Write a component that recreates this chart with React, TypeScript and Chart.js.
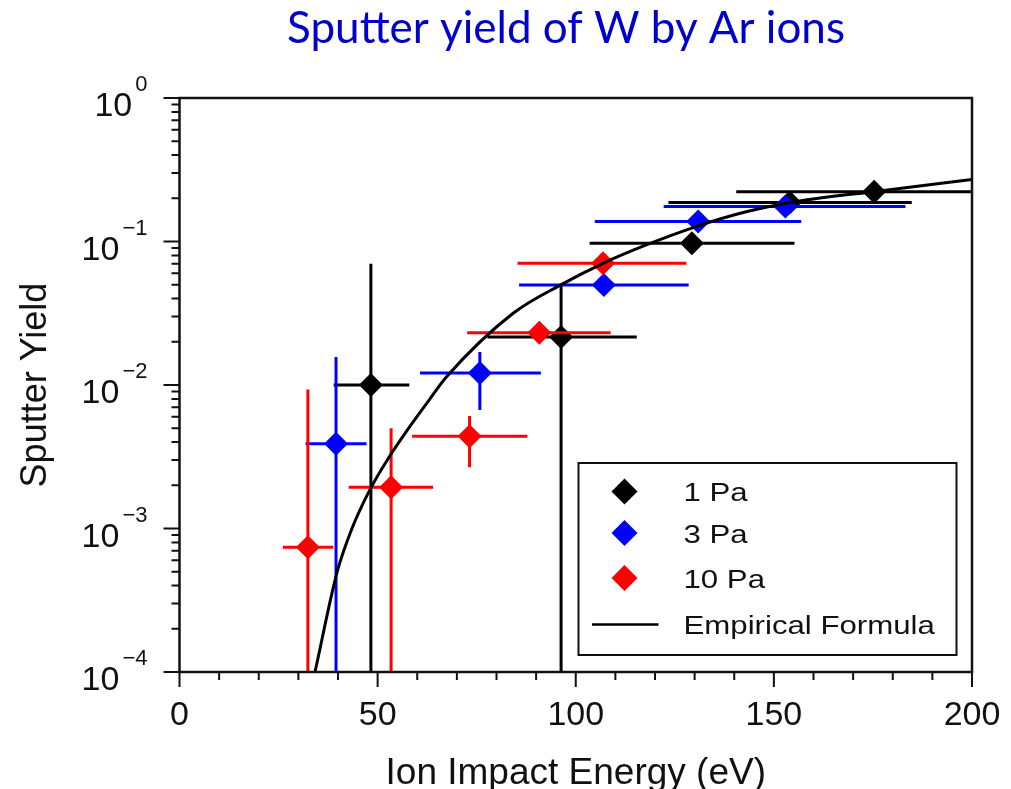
import React, { useEffect, useRef } from "react";
import { Chart, registerables } from "chart.js";

Chart.register(...registerables);

// ---------- text ----------
const TITLE = "Sputter yield of W by Ar ions";
const X_TITLE = "Ion Impact Energy (eV)";
const Y_TITLE = "Sputter Yield";

// ---------- axes ----------
const X_MIN = 0;
const X_MAX = 200;
const X_TICKS = [0, 50, 100, 150, 200];
const X_MINOR_TICKS = [10, 20, 30, 40, 60, 70, 80, 90, 110, 120, 130, 140, 160, 170, 180, 190];
const Y_EXPONENTS = [-4, -3, -2, -1, 0];
const Y_MINOR_MULTIPLIERS = [2, 3, 4, 5, 6, 7, 8, 9];

// ---------- series: 1 Pa ----------
const LABEL_1PA = "1 Pa";
const E_1PA = [48.3, 96.3, 129.3, 154.0, 175.3];
const Y_1PA = [0.01, 0.0216, 0.0972, 0.187, 0.222];
const EX_LO_1PA = [38.9, 77.7, 103.5, 123.4, 140.5];
const EX_HI_1PA = [58.0, 115.4, 155.2, 184.8, 210.0];
const EY_LO_1PA = [0, 0, null, null, null];
const EY_HI_1PA = [0.07, 0.049, null, null, null];

// ---------- series: 3 Pa ----------
const LABEL_3PA = "3 Pa";
const E_3PA = [39.5, 75.8, 107.1, 130.9, 152.9];
const Y_3PA = [0.0039, 0.0121, 0.0497, 0.138, 0.175];
const EX_LO_3PA = [31.8, 60.7, 85.7, 104.8, 122.2];
const EX_HI_3PA = [47.2, 91.2, 128.5, 156.9, 183.2];
const EY_LO_3PA = [0, 0.0067, null, null, null];
const EY_HI_3PA = [0.0157, 0.0170, null, null, null];

// ---------- series: 10 Pa ----------
const LABEL_10PA = "10 Pa";
const E_10PA = [32.4, 53.4, 73.2, 90.8, 106.9];
const Y_10PA = [0.00074, 0.00194, 0.0044, 0.0231, 0.0705];
const EX_LO_10PA = [26.1, 42.7, 58.7, 72.6, 85.3];
const EX_HI_10PA = [38.8, 64.0, 87.8, 108.8, 127.9];
const EY_LO_10PA = [0, 0, 0.00267, null, null];
const EY_HI_10PA = [0.0093, 0.0050, 0.00608, null, null];

// ---------- empirical formula curve ----------
const LABEL_FIT = "Empirical Formula";
const FIT_E = [34.2, 39.8, 43.4, 48.0, 52.7, 58.1, 63.2, 67.4, 84.2, 96.1, 106.9, 117.8, 130.4, 143.0, 155.7, 176.7, 200];
const FIT_Y = [1.0e-4, 5.0e-4, 9.8e-4, 1.85e-3, 3.08e-3, 5.12e-3, 8.0e-3, 1.14e-2, 3.16e-2, 4.97e-2, 7.05e-2, 9.46e-2, 1.27e-1, 1.61e-1, 1.9e-1, 2.25e-1, 2.7e-1];

// ---------- colours ----------
const BLACK = "#000000";
const BLUE = "#0000ff";
const RED = "#ff0000";
const TITLE_BLUE = "#0000cc";

const AXIS_FONT = '"Liberation Sans", Arial, Helvetica, sans-serif';

function points(
  xs: number[],
  ys: number[],
  xlo: number[],
  xhi: number[],
  ylo: (number | null)[],
  yhi: (number | null)[]
) {
  return xs.map((x, i) => ({
    x,
    y: ys[i],
    xMin: xlo[i],
    xMax: xhi[i],
    yMin: ylo[i],
    yMax: yhi[i],
  }));
}

const errorBarPlugin = {
  id: "errorBars",
  beforeDatasetDraw(chart: any, args: any) {
    const ds = chart.data.datasets[args.index];
    if (!ds.errorBars) return;
    const { ctx, chartArea: a } = chart;
    const xs = chart.scales.x;
    const ys = chart.scales.y;
    ctx.save();
    ctx.beginPath();
    ctx.rect(a.left, a.top, a.right - a.left, a.bottom - a.top);
    ctx.clip();
    ctx.strokeStyle = ds.backgroundColor;
    ctx.lineWidth = 3;
    ctx.lineCap = "butt";
    ds.data.forEach((p: any) => {
      const px = xs.getPixelForValue(p.x);
      const py = ys.getPixelForValue(p.y);
      ctx.beginPath();
      ctx.moveTo(xs.getPixelForValue(p.xMin), py);
      ctx.lineTo(xs.getPixelForValue(p.xMax), py);
      if (p.yMin !== null && p.yMax !== null) {
        ctx.moveTo(px, ys.getPixelForValue(p.yMin));
        ctx.lineTo(px, ys.getPixelForValue(p.yMax));
      }
      ctx.stroke();
    });
    ctx.restore();
  },
};

function diamond(ctx: CanvasRenderingContext2D, x: number, y: number, r: number, color: string) {
  ctx.beginPath();
  ctx.moveTo(x - r, y);
  ctx.lineTo(x, y - r);
  ctx.lineTo(x + r, y);
  ctx.lineTo(x, y + r);
  ctx.closePath();
  ctx.fillStyle = color;
  ctx.fill();
}

const frameAndTextPlugin = {
  id: "frameAndText",
  afterDraw(chart: any) {
    const { ctx, chartArea: a } = chart;
    const xs = chart.scales.x;
    const ys = chart.scales.y;
    ctx.save();

    // frame
    ctx.strokeStyle = "#111";
    ctx.lineWidth = 2.5;
    ctx.strokeRect(a.left, a.top, a.right - a.left, a.bottom - a.top);

    // x ticks
    ctx.lineWidth = 2;
    ctx.beginPath();
    X_TICKS.forEach((v) => {
      const px = xs.getPixelForValue(v);
      ctx.moveTo(px, a.bottom);
      ctx.lineTo(px, a.bottom + 15);
    });
    X_MINOR_TICKS.forEach((v) => {
      const px = xs.getPixelForValue(v);
      ctx.moveTo(px, a.bottom);
      ctx.lineTo(px, a.bottom + 8);
    });
    // y ticks
    Y_EXPONENTS.forEach((e) => {
      const py = ys.getPixelForValue(Math.pow(10, e));
      ctx.moveTo(a.left, py);
      ctx.lineTo(a.left - 16, py);
      if (e < 0) {
        Y_MINOR_MULTIPLIERS.forEach((m) => {
          const pm = ys.getPixelForValue(m * Math.pow(10, e));
          ctx.moveTo(a.left, pm);
          ctx.lineTo(a.left - 8, pm);
        });
      }
    });
    ctx.stroke();

    // x tick labels
    ctx.fillStyle = "#111";
    ctx.font = `34px ${AXIS_FONT}`;
    ctx.textAlign = "center";
    ctx.textBaseline = "alphabetic";
    X_TICKS.forEach((v) => {
      ctx.fillText(String(v), xs.getPixelForValue(v), a.bottom + 53);
    });

    // y tick labels: 10^e
    const rightEdge = a.left - 32;
    Y_EXPONENTS.forEach((e) => {
      const py = ys.getPixelForValue(Math.pow(10, e));
      const expText = e < 0 ? "\u2212" + Math.abs(e) : String(e);
      ctx.textAlign = "right";
      ctx.font = `22px ${AXIS_FONT}`;
      const expW = ctx.measureText(expText).width;
      ctx.fillText(expText, rightEdge, py - 7);
      ctx.font = `34px ${AXIS_FONT}`;
      ctx.fillText("10", rightEdge - expW - 3, py + 18);
    });

    // axis titles
    ctx.textAlign = "center";
    ctx.font = `37px ${AXIS_FONT}`;
    ctx.fillText(X_TITLE, (a.left + a.right) / 2, a.bottom + 112);
    ctx.save();
    ctx.translate(46, (a.top + a.bottom) / 2);
    ctx.rotate(-Math.PI / 2);
    ctx.font = `36px ${AXIS_FONT}`;
    ctx.fillText(Y_TITLE, 0, 0);
    ctx.restore();

    // chart title
    ctx.fillStyle = TITLE_BLUE;
    ctx.font = '44px Lato, "Open Sans", sans-serif';
    ctx.textAlign = "center";
    ctx.fillText(TITLE, 566, 43);

    // legend (inside plot, lower right)
    const boxW = 378;
    const boxH = 192;
    const bx = a.right - 15.5 - boxW;
    const by = a.bottom - 17 - boxH;
    ctx.fillStyle = "#fff";
    ctx.fillRect(bx, by, boxW, boxH);
    ctx.strokeStyle = "#111";
    ctx.lineWidth = 2;
    ctx.strokeRect(bx, by, boxW, boxH);
    const rows = [28.5, 70, 115, 161.5];
    const order = [3, 2, 1, 0];
    order.forEach((dsIndex, i) => {
      const ds = chart.data.datasets[dsIndex];
      const cy = by + rows[i];
      const mx = bx + 46;
      if (ds.type === "line") {
        ctx.strokeStyle = ds.borderColor;
        ctx.lineWidth = 2.5;
        ctx.beginPath();
        ctx.moveTo(bx + 13.5, cy);
        ctx.lineTo(bx + 80, cy);
        ctx.stroke();
      } else {
        diamond(ctx, mx, cy, 13, ds.backgroundColor);
      }
      ctx.save();
      ctx.translate(bx + 105, cy + 9.5);
      ctx.scale(1.2, 1);
      ctx.fillStyle = "#111";
      ctx.font = `26px ${AXIS_FONT}`;
      ctx.textAlign = "left";
      ctx.fillText(ds.label, 0, 0);
      ctx.restore();
    });

    ctx.restore();
  },
};

export default function App() {
  const canvasRef = useRef<HTMLCanvasElement>(null);

  useEffect(() => {
    const canvas = canvasRef.current;
    if (!canvas) return;
    const markerCommon = {
      type: "scatter" as const,
      pointStyle: "rectRot",
      pointRadius: 12,
      pointHoverRadius: 12,
      pointBorderWidth: 0,
      showLine: false,
      errorBars: true,
    };
    const chart = new Chart(canvas, {
      type: "scatter",
      data: {
        datasets: [
          {
            type: "line",
            label: LABEL_FIT,
            data: FIT_E.map((x, i) => ({ x, y: FIT_Y[i] })),
            borderColor: BLACK,
            backgroundColor: BLACK,
            borderWidth: 3,
            pointRadius: 0,
            fill: false,
            cubicInterpolationMode: "monotone",
            order: 0,
          } as any,
          {
            ...markerCommon,
            label: LABEL_10PA,
            data: points(E_10PA, Y_10PA, EX_LO_10PA, EX_HI_10PA, EY_LO_10PA, EY_HI_10PA),
            backgroundColor: RED,
            borderColor: RED,
            order: 1,
          } as any,
          {
            ...markerCommon,
            label: LABEL_3PA,
            data: points(E_3PA, Y_3PA, EX_LO_3PA, EX_HI_3PA, EY_LO_3PA, EY_HI_3PA),
            backgroundColor: BLUE,
            borderColor: BLUE,
            order: 2,
          } as any,
          {
            ...markerCommon,
            label: LABEL_1PA,
            data: points(E_1PA, Y_1PA, EX_LO_1PA, EX_HI_1PA, EY_LO_1PA, EY_HI_1PA),
            backgroundColor: BLACK,
            borderColor: BLACK,
            order: 3,
          } as any,
        ],
      },
      options: {
        animation: false,
        responsive: false,
        devicePixelRatio: 1,
        events: [],
        layout: {
          padding: { left: 179.5, top: 98, right: 39, bottom: 117 },
        },
        plugins: {
          legend: { display: false },
          title: { display: false },
          tooltip: { enabled: false },
        },
        scales: {
          x: { type: "linear", min: X_MIN, max: X_MAX, display: false },
          y: { type: "logarithmic", min: 1e-4, max: 1, display: false },
        },
      },
      plugins: [errorBarPlugin, frameAndTextPlugin],
    });
    return () => chart.destroy();
  }, []);

  return (
    <div style={{ position: "absolute", left: 0, top: 0, width: 1011, height: 789, background: "#fff" }}>
      <canvas ref={canvasRef} width={1011} height={789} style={{ display: "block", width: 1011, height: 789 }} />
    </div>
  );
}
